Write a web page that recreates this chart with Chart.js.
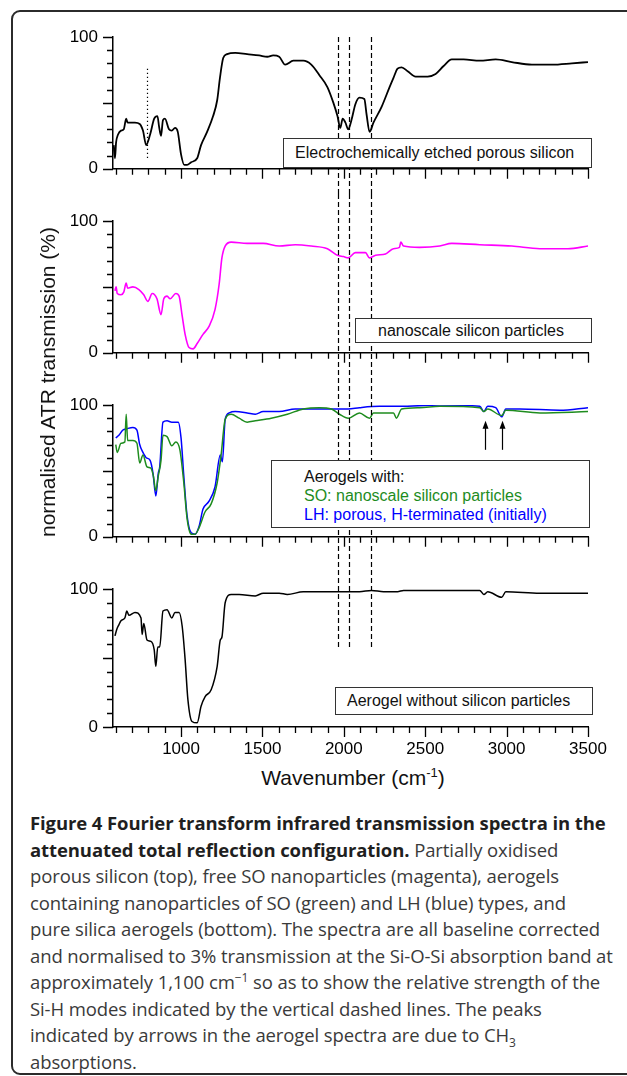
<!DOCTYPE html>
<html>
<head>
<meta charset="utf-8">
<title>FTIR ATR spectra</title>
<script src="https://cdn.jsdelivr.net/npm/chart.js@4.4.1/dist/chart.umd.min.js"></script>
<style>
  html, body { margin: 0; padding: 0; background: #fff; }
  body { position: relative; width: 627px; height: 1076px; overflow: hidden; font-family: "Liberation Sans", Arial, sans-serif; }
  #frame { position: absolute; left: 11px; top: 10px; width: 720px; height: 1065px; box-sizing: border-box; border: 2px solid #2b2b2b; border-radius: 9px; }
  canvas.panel { position: absolute; left: 0; }
  .tag { position: absolute; box-sizing: border-box; background: #fff; border: 1px solid #333; font-size: 16px; color: #111; white-space: nowrap; }
  #ytitle { position: absolute; left: 48px; top: 382px; transform: translate(-50%, -50%) rotate(-90deg); font-size: 21px; white-space: nowrap; color: #111; }
  #xtitle { position: absolute; left: 353px; top: 778px; transform: translate(-50%, -50%); font-size: 21px; white-space: nowrap; color: #111; }
  #xtitle sup { font-size: 13px; line-height: 0; vertical-align: 8px; }
  #caption { position: absolute; left: 30px; top: 810px; font-family: "Open Sans", "Noto Sans", sans-serif; font-size: 18.5px; line-height: 26.5px; color: #3a3a3a; white-space: nowrap; letter-spacing: -0.1px; }
  #caption b { color: #1f1f1f; font-weight: 700; }
  #caption sup, #caption sub { font-size: 12px; line-height: 0; }
</style>
</head>
<body>
<div id="frame"></div>

<canvas id="c1" class="panel" width="627" height="184" style="top:10px"></canvas>
<canvas id="c2" class="panel" width="627" height="184" style="top:194px"></canvas>
<canvas id="c3" class="panel" width="627" height="184" style="top:378px"></canvas>
<canvas id="c4" class="panel" width="627" height="200" style="top:562px"></canvas>

<div class="tag" style="left:283px;top:138px;width:309px;height:30px;line-height:28px;padding-left:11px">Electrochemically etched porous silicon</div>
<div class="tag" style="left:355px;top:318px;width:237px;height:25px;line-height:23px;padding-left:22px">nanoscale silicon particles</div>
<div class="tag" style="left:271px;top:460px;width:319px;height:68px;line-height:19px;padding:6px 0 0 32px">
  <div>Aerogels with:</div>
  <div style="color:#1e8c1e">SO: nanoscale silicon particles</div>
  <div style="color:#0000ff">LH: porous, H-terminated (initially)</div>
</div>
<div class="tag" style="left:335px;top:687px;width:258px;height:28px;line-height:26px;padding-left:11px">Aerogel without silicon particles</div>

<div id="ytitle">normalised ATR transmission (%)</div>
<div id="xtitle">Wavenumber (cm<sup>-1</sup>)</div>

<div id="caption">
  <div><b>Figure 4 Fourier transform infrared transmission spectra in the</b></div>
  <div><b>attenuated total reflection configuration.</b> Partially oxidised</div>
  <div>porous silicon (top), free SO nanoparticles (magenta), aerogels</div>
  <div>containing nanoparticles of SO (green) and LH (blue) types, and</div>
  <div>pure silica aerogels (bottom). The spectra are all baseline corrected</div>
  <div>and normalised to 3% transmission at the Si-O-Si absorption band at</div>
  <div>approximately 1,100 cm<sup>−1</sup> so as to show the relative strength of the</div>
  <div>Si-H modes indicated by the vertical dashed lines. The peaks</div>
  <div>indicated by arrows in the aerogel spectra are due to CH<sub>3</sub></div>
  <div>absorptions.</div>
</div>

<script>
// axis ticks
const xTickValues = [600, 700, 800, 900, 1000, 1100, 1200, 1300, 1400, 1500,
  1600, 1700, 1800, 1900, 2000, 2100, 2200, 2300, 2400, 2500,
  2600, 2700, 2800, 2900, 3000, 3100, 3200, 3300, 3400, 3500];
const xTickLabels = [1000, 1500, 2000, 2500, 3000, 3500];
const yTickValues = [0, 10, 20, 30, 40, 50, 60, 70, 80, 90, 100];
const yTickLabels = [0, 50, 100];

// annotations (wavenumbers in cm-1, heights in %)
const siHLines = [1965, 2030, 2165];
const dottedLineX = [790];
const dottedRange = [7, 76];
const ch3Arrows = [2865, 2970];
const arrowRange = [66, 88];

// electrochemically etched porous silicon
const psiX = [586, 594, 601, 613, 631, 648, 663, 672, 717, 746,
  766, 786, 810, 835, 855, 865, 877, 889, 901, 926,
  943, 963, 980, 1000, 1020, 1037, 1062, 1099, 1123, 1160,
  1197, 1222, 1239, 1259, 1283, 1333, 1406, 1480, 1530, 1566,
  1603, 1640, 1690, 1751, 1800, 1850, 1899, 1936, 1961, 1978,
  1993, 2010, 2027, 2047, 2071, 2096, 2126, 2140, 2158, 2182,
  2232, 2281, 2305, 2330, 2355, 2392, 2441, 2515, 2564, 2613,
  2663, 2736, 2835, 2933, 3032, 3155, 3278, 3401, 3500];
const psiY = [18, 8, 20, 26, 29, 30, 38, 35, 35, 34,
  29, 18, 26, 38, 40, 32, 25, 37, 38, 30,
  29, 31, 28, 11, 3, 3, 5, 8, 18, 28,
  40, 52, 69, 84, 87, 88, 87, 86, 85, 86,
  85, 79, 82, 82, 79, 71, 62, 50, 40, 31,
  38, 35, 30, 37, 49, 54, 53, 41, 28, 35,
  47, 62, 69, 76, 77, 74, 70, 70, 72, 78,
  83, 83, 82, 83, 81, 79, 79, 80, 81];

// nanoscale silicon particles
const npX = [594, 601, 608, 631, 648, 663, 672, 704, 741, 771,
  796, 823, 852, 877, 894, 914, 933, 968, 988, 1007,
  1025, 1049, 1074, 1099, 1135, 1172, 1209, 1234, 1251, 1271,
  1308, 1406, 1505, 1603, 1702, 1800, 1899, 1961, 1998, 2027,
  2071, 2133, 2158, 2195, 2256, 2305, 2342, 2350, 2367, 2465,
  2589, 2663, 2835, 3032, 3204, 3377, 3500];
const npY = [47, 50, 45, 44, 46, 53, 49, 50, 48, 44,
  39, 45, 41, 29, 41, 43, 41, 45, 43, 28,
  14, 4, 3, 7, 14, 20, 33, 52, 72, 81,
  84, 83, 83, 81, 82, 81, 79, 74, 73, 72,
  76, 76, 72, 74, 75, 79, 80, 84, 81, 80,
  81, 83, 82, 81, 79, 79, 81];

// aerogel with SO particles
const soX = [599, 608, 631, 655, 663, 672, 704, 729, 746, 766,
  791, 815, 830, 845, 860, 877, 889, 914, 943, 968,
  993, 1017, 1037, 1062, 1086, 1111, 1148, 1185, 1222, 1246,
  1271, 1308, 1357, 1406, 1456, 1554, 1653, 1751, 1850, 1924,
  1973, 2027, 2096, 2158, 2182, 2244, 2305, 2323, 2355, 2465,
  2589, 2835, 2860, 2884, 2970, 2995, 3204, 3500];
const soY = [70, 64, 71, 72, 93, 73, 73, 71, 56, 62,
  53, 52, 46, 35, 46, 58, 77, 76, 69, 72,
  66, 41, 14, 2, 2, 7, 19, 25, 41, 62,
  89, 93, 90, 87, 88, 90, 93, 97, 98, 97,
  93, 90, 94, 90, 94, 94, 94, 90, 97, 98,
  99, 98, 95, 97, 92, 96, 94, 95];

// aerogel with LH particles
const lhX = [599, 618, 643, 667, 704, 729, 746, 766, 786, 810,
  828, 845, 860, 869, 889, 914, 943, 983, 1000, 1017,
  1037, 1062, 1086, 1111, 1135, 1172, 1209, 1241, 1254, 1271,
  1296, 1333, 1406, 1456, 1505, 1603, 1702, 1850, 1973, 2027,
  2096, 2219, 2342, 2589, 2835, 2860, 2884, 2933, 2970, 2995,
  3081, 3327, 3500];
const lhY = [75, 77, 81, 82, 83, 81, 70, 64, 60, 58,
  48, 31, 48, 53, 87, 88, 87, 87, 75, 46,
  16, 3, 2, 8, 21, 27, 38, 62, 57, 89,
  94, 95, 94, 93, 95, 95, 97, 97, 97, 97,
  98, 99, 99, 100, 99, 95, 99, 98, 91, 97,
  97, 96, 98];

// aerogel without silicon particles
const agX = [594, 606, 618, 631, 655, 667, 680, 717, 754, 761,
  771, 791, 815, 835, 845, 857, 869, 889, 914, 943,
  963, 988, 1007, 1025, 1042, 1067, 1099, 1123, 1148, 1185,
  1222, 1241, 1251, 1271, 1308, 1357, 1456, 1505, 1603, 1653,
  1751, 1850, 1998, 2096, 2170, 2244, 2330, 2367, 2589, 2835,
  2860, 2884, 2970, 2995, 3204, 3500];
const agY = [66, 71, 74, 77, 79, 84, 81, 83, 79, 67,
  75, 63, 62, 56, 44, 58, 58, 84, 85, 79,
  83, 83, 73, 49, 20, 4, 3, 15, 22, 27,
  44, 63, 65, 90, 96, 96, 95, 97, 97, 96,
  98, 98, 98, 98, 99, 98, 98, 99, 99, 99,
  96, 98, 94, 98, 97, 97];

const zip = (xs, ys) => xs.map((x, i) => ({ x: x, y: ys[i] }));

// tick marks: long for labelled ticks, short otherwise
const tickMarks = {
  id: "tickMarks",
  afterDraw(chart) {
    const { ctx, chartArea: a, scales: { x, y } } = chart;
    ctx.save();
    ctx.strokeStyle = "#000";
    ctx.lineWidth = 1.3;
    ctx.beginPath();
    xTickValues.forEach(v => {
      const px = Math.round(x.getPixelForValue(v)) + 0.5;
      ctx.moveTo(px, a.bottom);
      ctx.lineTo(px, a.bottom + (xTickLabels.includes(v) ? 10 : 6));
    });
    yTickValues.forEach(v => {
      const py = Math.round(y.getPixelForValue(v)) + 0.5;
      ctx.moveTo(a.left, py);
      ctx.lineTo(a.left - (yTickLabels.includes(v) ? 10 : 6), py);
    });
    ctx.stroke();
    ctx.restore();
  }
};

// Si-H dashed lines, dotted line and CH3 arrows
function overlay(cfg) {
  return {
    id: "overlay",
    afterDatasetsDraw(chart) {
      const { ctx, scales: { x, y } } = chart;
      ctx.save();
      ctx.strokeStyle = "#000";
      ctx.lineWidth = 1.2;
      ctx.setLineDash([5, 3]);
      const top = cfg.dashFrom == null ? 0 : y.getPixelForValue(cfg.dashFrom);
      const bottom = cfg.dashTo == null ? chart.height : y.getPixelForValue(cfg.dashTo);
      siHLines.forEach(v => {
        const px = Math.round(x.getPixelForValue(v)) + 0.5;
        ctx.beginPath();
        ctx.moveTo(px, top);
        ctx.lineTo(px, bottom);
        ctx.stroke();
      });
      if (cfg.dotted) {
        ctx.setLineDash([1.3, 2.7]);
        dottedLineX.forEach(v => {
          const px = Math.round(x.getPixelForValue(v)) + 0.5;
          ctx.beginPath();
          ctx.moveTo(px, y.getPixelForValue(dottedRange[1]));
          ctx.lineTo(px, y.getPixelForValue(dottedRange[0]));
          ctx.stroke();
        });
      }
      if (cfg.arrows) {
        ctx.setLineDash([]);
        ctx.fillStyle = "#000";
        ch3Arrows.forEach(v => {
          const px = Math.round(x.getPixelForValue(v)) + 0.5;
          const y0 = y.getPixelForValue(arrowRange[0]);
          const y1 = y.getPixelForValue(arrowRange[1]);
          ctx.beginPath();
          ctx.moveTo(px, y0);
          ctx.lineTo(px, y1 + 6);
          ctx.stroke();
          ctx.beginPath();
          ctx.moveTo(px, y1);
          ctx.lineTo(px - 3, y1 + 8);
          ctx.lineTo(px + 3, y1 + 8);
          ctx.closePath();
          ctx.fill();
        });
      }
      ctx.restore();
    }
  };
}

function makePanel(id, datasets, cfg) {
  return new Chart(document.getElementById(id), {
    type: "line",
    data: { datasets: datasets },
    options: {
      responsive: false,
      animation: false,
      layout: { padding: { top: 27, right: 39, bottom: 0, left: 0 } },
      plugins: { legend: { display: false }, tooltip: { enabled: false } },
      elements: {
        point: { radius: 0 },
        line: { borderWidth: 1.5, cubicInterpolationMode: "monotone" }
      },
      scales: {
        x: {
          type: "linear",
          min: 582,
          max: 3500,
          afterBuildTicks: s => { s.ticks = xTickValues.map(v => ({ value: v })); },
          afterFit: s => { s.height = cfg.xHeight; },
          grid: { display: false, drawTicks: false },
          border: { color: "#000", width: 1.5 },
          ticks: {
            display: !!cfg.showX,
            autoSkip: false,
            maxRotation: 0,
            padding: 12,
            color: "#000",
            font: { family: "Liberation Sans", size: 17 },
            callback: v => xTickLabels.includes(v) ? String(v) : ""
          }
        },
        y: {
          min: 0,
          max: 100,
          afterBuildTicks: s => { s.ticks = yTickValues.map(v => ({ value: v })); },
          afterFit: s => { s.width = 113; },
          grid: { display: false, drawTicks: false },
          border: { color: "#000", width: 1.5 },
          ticks: {
            padding: 15,
            color: "#000",
            font: { family: "Liberation Sans", size: 17 },
            callback: v => yTickLabels.includes(v) ? String(v) : ""
          }
        }
      }
    },
    plugins: [tickMarks, overlay(cfg)]
  });
}

makePanel("c1", [
  { data: zip(psiX, psiY), borderColor: "#000000", borderWidth: 1.8 }
], { xHeight: 19, dashFrom: 100, dotted: true });

makePanel("c2", [
  { data: zip(npX, npY), borderColor: "#ff00ff", borderWidth: 1.6 }
], { xHeight: 19 });

makePanel("c3", [
  { data: zip(soX, soY), borderColor: "#1e8c1e" },
  { data: zip(lhX, lhY), borderColor: "#0000ff" }
], { xHeight: 19, arrows: true });

makePanel("c4", [
  { data: zip(agX, agY), borderColor: "#000000" }
], { xHeight: 35, showX: true, dashTo: 56 });
</script>
</body>
</html>
